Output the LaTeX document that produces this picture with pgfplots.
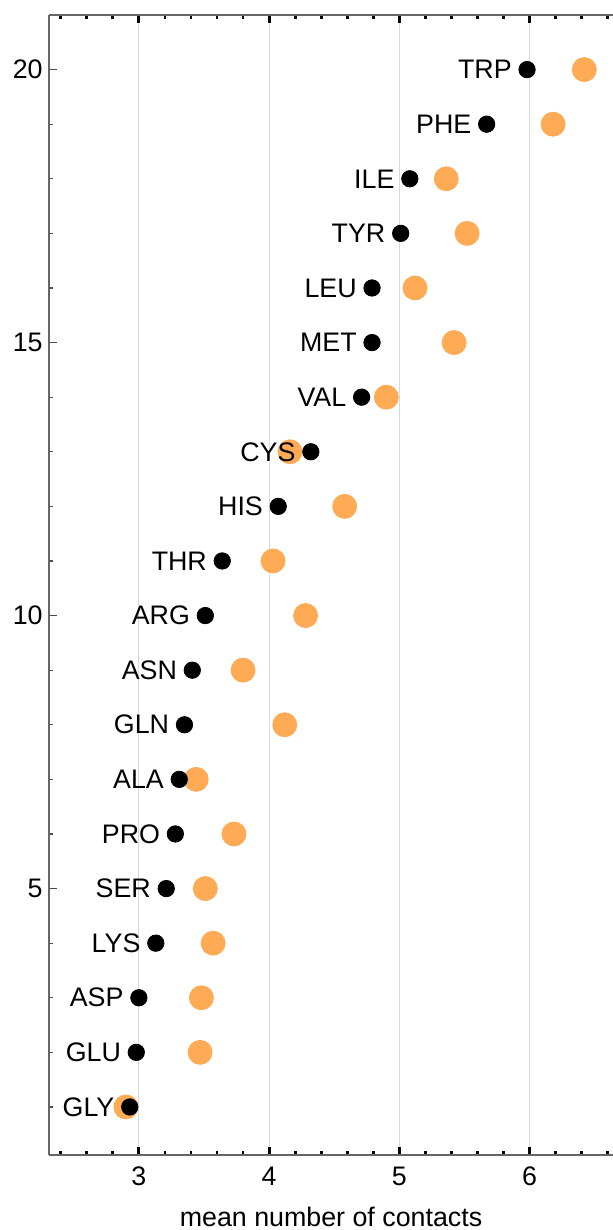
\documentclass[border=0pt]{standalone}
\usepackage{fontspec}
\setmainfont{Liberation Sans}
\usepackage{pgfplots}
\usepackage{pgfplotstable}
\pgfplotsset{compat=1.18}
\definecolor{myorange}{RGB}{255,170,85}
\pgfplotstableread{
x y name
5.98 20 TRP
5.67 19 PHE
5.08 18 ILE
5.01 17 TYR
4.79 16 LEU
4.79 15 MET
4.71 14 VAL
4.32 13 CYS
4.07 12 HIS
3.64 11 THR
3.51 10 ARG
3.41 9 ASN
3.35 8 GLN
3.31 7 ALA
3.28 6 PRO
3.21 5 SER
3.13 4 LYS
3.00 3 ASP
2.98 2 GLU
2.93 1 GLY
}\blk
\pgfplotstableread{
x y
6.42 20
6.18 19
5.36 18
5.52 17
5.12 16
5.42 15
4.90 14
4.16 13
4.58 12
4.03 11
4.28 10
3.80 9
4.12 8
3.44 7
3.73 6
3.51 5
3.57 4
3.48 3
3.47 2
2.90 1
}\org
\begin{document}
\begin{tikzpicture}
\useasboundingbox (-24.5pt,-37.5pt) rectangle (282pt,577.5pt);
\begin{axis}[
  at={(0pt,0pt)}, anchor=south west,
  scale only axis,
  width=282pt, height=570pt,
  xmin=2.31, xmax=6.64, ymin=0.12, ymax=21.0,
  axis x line*=box, axis y line*=left,
  axis line style={black!60, line width=0.6pt},
  font=\fontsize{13.4}{16}\selectfont,
  /pgf/number format/assume math mode=true,
  xtick={3,4,5,6},
  minor xtick={2.4,2.6,...,6.61},
  ytick={5,10,15,20},
  minor ytick={1,...,21},
  tick align=inside,
  major tick length=3.8pt, minor tick length=1.8pt,
  x tick style={black, line width=1.4pt},
  y tick style={black!70, line width=0.6pt},
  xmajorgrids,
  major x grid style={black!15, line width=0.5pt},
  xticklabel style={anchor=center, yshift=-10.5pt},
  yticklabel style={inner sep=0pt, xshift=-3pt},
  xlabel={mean number of contacts},
  xlabel style={at={(axis description cs:0.5,0)}, anchor=center, yshift=-30.8pt},
  clip=false,
]
\addplot[only marks, mark=*, mark size=6pt, color=myorange, mark options={draw=none, fill=myorange}] table[x=x,y=y]{\org};
\addplot[only marks, mark=*, mark size=4.1pt, color=black,
  nodes near coords, point meta=explicit symbolic,
  nodes near coords style={anchor=east, inner sep=0pt, xshift=-7.5pt, text=black, font=\fontsize{13.4}{16}\selectfont}]
  table[x=x,y=y,meta=name]{\blk};
\end{axis}
\end{tikzpicture}
\end{document}
